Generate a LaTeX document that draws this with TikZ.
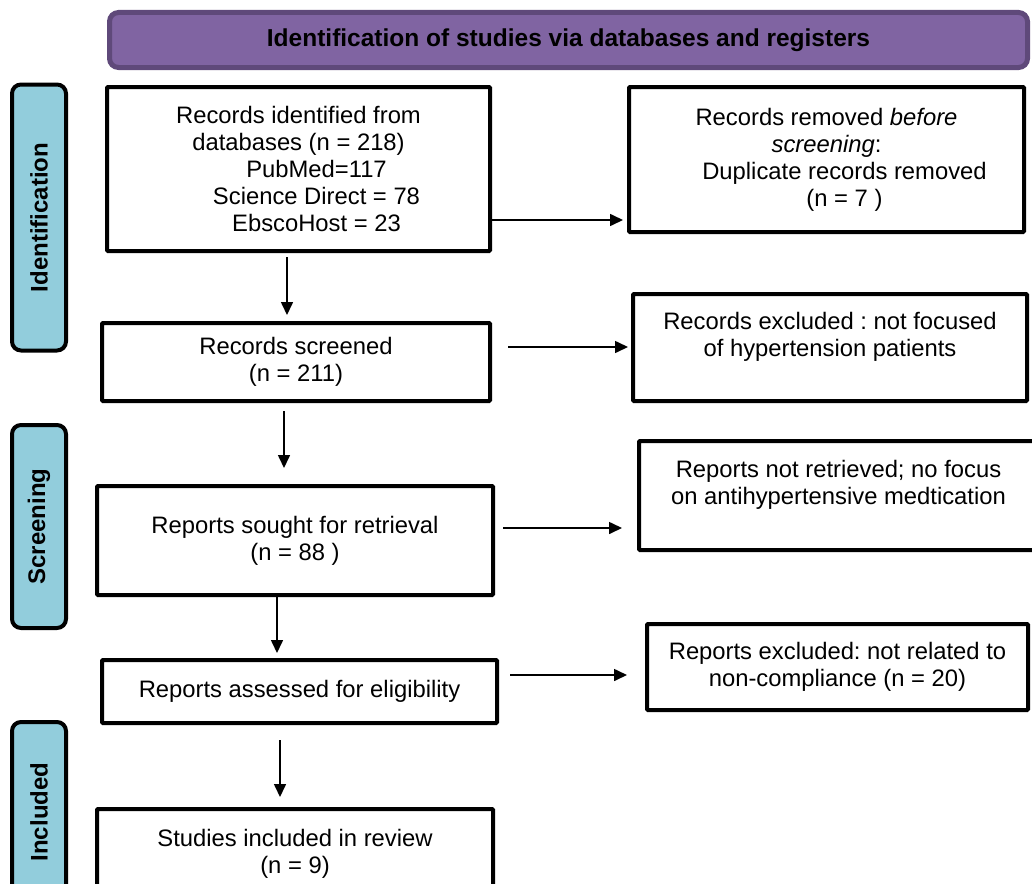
\documentclass[tikz,border=0pt]{standalone}
\usepackage{fontspec}
\setmainfont{Liberation Sans}
\usetikzlibrary{arrows.meta, positioning, calc}

\definecolor{hdrfill}{HTML}{8064A2}
\definecolor{hdrdraw}{HTML}{5F497A}
\definecolor{sidefill}{HTML}{92CDDC}
\frenchspacing

\begin{document}
\begin{tikzpicture}[x=1pt, y=-1pt,
    every node/.style={font=\fontsize{23.8}{27}\selectfont},
    bx/.style={draw, line width=4pt, fill=white, align=center, inner sep=0pt, rounded corners=1pt},
    side/.style={draw, line width=4pt, fill=sidefill, rounded corners=9pt, rotate=90, minimum height=54pt, inner sep=0pt, font=\fontsize{24}{27}\selectfont\bfseries},
    a/.style={-{Triangle[length=13pt, width=12pt]}, line width=1.6pt}
]
\useasboundingbox (0,0) rectangle (1032,883);

\node[draw=hdrdraw, line width=5pt, fill=hdrfill, rounded corners=9pt, minimum width=918pt, minimum height=55pt, inner sep=0pt,
  font=\fontsize{24.5}{27}\selectfont\bfseries] (hdr) at (568.5,40) {Identification of studies via databases and registers};

\node[side, minimum width=266pt] (sideid) at (39,217.5) {Identification};
\node[side, minimum width=203pt] (sidescr) at (39,526.5) {Screening};
\node[side, minimum width=180pt] (sideinc) at (39,812) {Included};

\node[bx, minimum width=383pt, minimum height=164pt] (ident) at (298.5,169)
  {Records identified from\\databases (n = 218)\\\hspace*{36pt}PubMed=117\\\hspace*{36pt}Science Direct = 78\\\hspace*{36pt}EbscoHost = 23};
\node[bx, minimum width=395pt, minimum height=145pt] (removed) at (826.5,159.5)
  {Records removed \textit{before}\\\textit{screening}:\\\hspace*{36pt}Duplicate records removed\\\hspace*{36pt}(n = 7 )};
\node[bx, minimum width=388pt, minimum height=78pt] (screened) at (296,362) {Records screened\\(n = 211)};
\node[bx, minimum width=394pt, minimum height=107pt] (excluded) at (830,347.5) {Records excluded : not focused\\of hypertension patients\\\mbox{}};
\node[bx, minimum width=396pt, minimum height=109pt] (sought) at (295,540.5) {Reports sought for retrieval\\(n = 88 )};
\node[bx, minimum width=399pt, minimum height=109pt] (notretr) at (838.5,495.5) {Reports not retrieved; no focus\\on antihypertensive medtication\\\mbox{}};
\node[bx, minimum width=395pt, minimum height=63pt] (assessed) at (299.5,691.5) {Reports assessed for eligibility};
\node[bx, minimum width=381pt, minimum height=86pt] (repexcl) at (837.5,667) {Reports excluded: not related to\\non-compliance (n = 20)};
\node[bx, minimum width=396pt, minimum height=89pt] (included) at (295,853.5) {Studies included in review\\(n = 9)};

% side arrows
\coordinate (h1) at ([yshift=-51pt]ident.east);
\coordinate (h2) at ([yshift=15pt]screened.east);
\coordinate (h3) at ([yshift=12.5pt]sought.east);
\coordinate (h4) at ([yshift=16.5pt]assessed.east);
\draw[a, shorten >=4pt] (h1) -- (h1 -| removed.west);
\draw[a, shorten <=16pt, shorten >=3pt] (h2) -- (h2 -| excluded.west);
\draw[a, shorten <=8pt, shorten >=15pt] (h3) -- (h3 -| notretr.west);
\draw[a, shorten <=11pt, shorten >=18pt] (h4) -- (h4 -| repexcl.west);

% down arrows
\coordinate (v1) at ([xshift=-11.5pt]ident.south);
\coordinate (v2) at ([xshift=-12pt]screened.south);
\coordinate (v3) at ([xshift=-18pt]sought.south);
\coordinate (v4) at ([xshift=-19.5pt]assessed.south);
\draw[a, shorten <=4pt, shorten >=6pt] (v1) -- (v1 |- screened.north);
\draw[a, shorten <=8pt, shorten >=16pt] (v2) -- (v2 |- sought.north);
\draw[a, shorten >=5pt] (v3) -- (v3 |- assessed.north);
\draw[a, shorten <=15pt, shorten >=10pt] (v4) -- (v4 |- included.north);
\end{tikzpicture}
\end{document}
